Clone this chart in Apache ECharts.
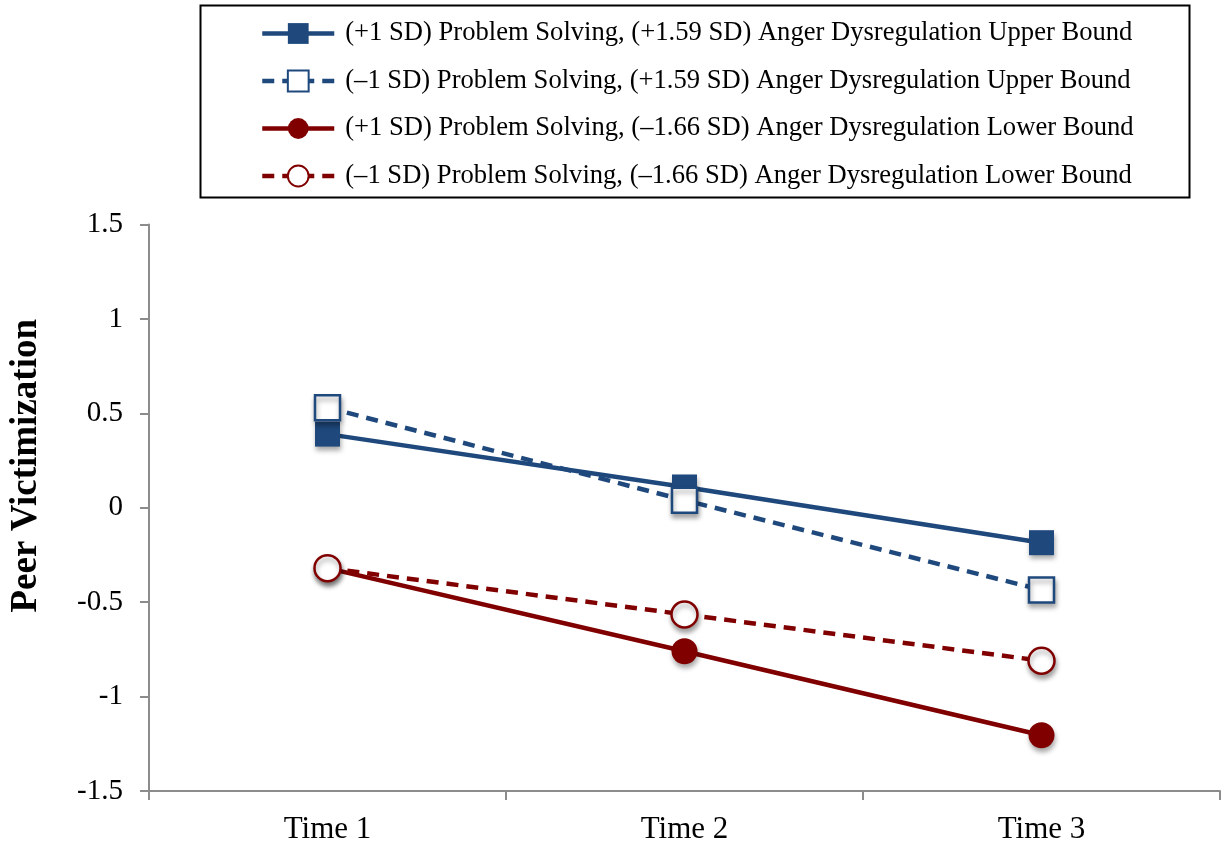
<!DOCTYPE html>
<html>
<head>
<meta charset="utf-8">
<script src="https://cdn.jsdelivr.net/npm/echarts@6/dist/echarts.min.js"></script>
<style>
html,body{margin:0;padding:0;background:#fff;}
#chart{width:1221px;height:845px;}
</style>
</head>
<body>
<div id="chart"></div>
<script>
const categories = ['Time 1', 'Time 2', 'Time 3'];
const seriesNames = [
  '(+1 SD) Problem Solving, (+1.59 SD) Anger Dysregulation Upper Bound',
  '(\u20131 SD) Problem Solving, (+1.59 SD) Anger Dysregulation Upper Bound',
  '(+1 SD) Problem Solving, (\u20131.66 SD) Anger Dysregulation Lower Bound',
  '(\u20131 SD) Problem Solving, (\u20131.66 SD) Anger Dysregulation Lower Bound'
];
const highPSHighAnger = [0.39, 0.11, -0.185];
const lowPSHighAnger = [0.53, 0.04, -0.435];
const highPSLowAnger = [-0.32, -0.76, -1.205];
const lowPSLowAnger = [-0.32, -0.565, -0.81];
const yTicks = {min: -1.5, max: 1.5, interval: 0.5};

const FONT = '"Times New Roman", "Liberation Serif", serif';
const BLUE = '#1f497d';
const RED = '#800000';
const shadow = {shadowBlur: 5, shadowColor: 'rgba(0,0,0,0.35)', shadowOffsetX: 1, shadowOffsetY: 4};

function mk(name, data, color, filled, symbol, dashed) {
  return {
    name: name,
    type: 'line',
    data: data,
    symbol: symbol,
    symbolSize: symbol === 'rect' ? 25 : 26,
    lineStyle: {color: color, width: 4.5, type: dashed ? [12, 8] : 'solid'},
    itemStyle: Object.assign({
      color: filled ? color : '#ffffff',
      borderColor: color,
      borderWidth: filled ? 0 : 2.5
    }, shadow),
    emphasis: {disabled: true},
    animation: false
  };
}

const chart = echarts.init(document.getElementById('chart'));
chart.setOption({
  backgroundColor: '#ffffff',
  animation: false,
  graphic: [{
    type: 'rect',
    left: 198, top: 3,
    shape: {width: 989, height: 192},
    style: {fill: 'none', stroke: '#000', lineWidth: 2},
    z: 0
  }],
  legend: {
    orient: 'vertical',
    left: 198, top: 3,
    padding: [17, 10, 10, 62],
    itemWidth: 72,
    itemHeight: 26,
    itemGap: 20.5,
    textStyle: {fontFamily: FONT, fontSize: 26.6, color: '#000', lineHeight: 26, padding: [0, 0, 0, 6]},
    itemStyle: {shadowBlur: 0, shadowOffsetX: 0, shadowOffsetY: 0, shadowColor: 'transparent'},
    lineStyle: {width: 4.5},
    selectedMode: false,
    data: seriesNames
  },
  grid: {left: 149, right: 1, top: 224.5, bottom: 53.3, containLabel: false},
  xAxis: {
    type: 'category',
    data: categories,
    boundaryGap: true,
    axisLine: {onZero: false, lineStyle: {color: '#8c8c8c', width: 2}},
    axisTick: {show: true, length: 9, lineStyle: {color: '#8c8c8c', width: 2}},
    axisLabel: {fontFamily: FONT, fontSize: 31, color: '#000', margin: 23},
    splitLine: {show: false}
  },
  yAxis: {
    type: 'value',
    min: yTicks.min, max: yTicks.max, interval: yTicks.interval,
    name: 'Peer Victimization',
    nameLocation: 'middle',
    nameGap: 104,
    nameRotate: 90,
    nameTextStyle: {fontFamily: FONT, fontSize: 37, fontWeight: 'bold', color: '#000', padding: [0, 0, 0, 84]},
    axisLine: {show: true, lineStyle: {color: '#8c8c8c', width: 2}},
    axisTick: {show: true, length: 9, lineStyle: {color: '#8c8c8c', width: 2}},
    axisLabel: {fontFamily: FONT, fontSize: 29, color: '#000', margin: 26},
    splitLine: {show: false}
  },
  series: [
    mk(seriesNames[0], highPSHighAnger, BLUE, true, 'rect', false),
    mk(seriesNames[1], lowPSHighAnger, BLUE, false, 'rect', true),
    mk(seriesNames[2], highPSLowAnger, RED, true, 'circle', false),
    mk(seriesNames[3], lowPSLowAnger, RED, false, 'circle', true)
  ]
});
</script>
</body>
</html>
